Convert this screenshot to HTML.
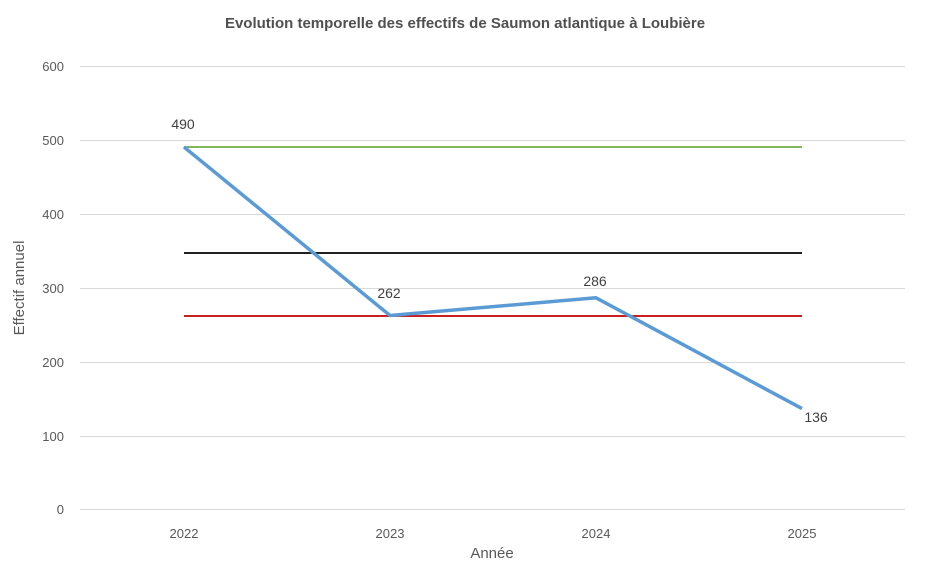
<!DOCTYPE html>
<html><head><meta charset="utf-8"><style>
html,body{margin:0;padding:0;background:#fff;}
svg text{font-family:"Liberation Sans",Arial,sans-serif;}
</style></head><body>
<svg width="928" height="566" xmlns="http://www.w3.org/2000/svg">
<rect width="928" height="566" fill="#fff"/>
<text x="465" y="28" text-anchor="middle" font-size="15" font-weight="bold" fill="#505050">Evolution temporelle des effectifs de Saumon atlantique à Loubière</text>
<g stroke="#d9d9d9" stroke-width="1">
<line x1="80" x2="905" y1="66.5" y2="66.5"/>
<line x1="80" x2="905" y1="140.5" y2="140.5"/>
<line x1="80" x2="905" y1="214.5" y2="214.5"/>
<line x1="80" x2="905" y1="288.5" y2="288.5"/>
<line x1="80" x2="905" y1="362.5" y2="362.5"/>
<line x1="80" x2="905" y1="436.5" y2="436.5"/>
<line x1="80" x2="905" y1="509.5" y2="509.5"/>
</g>
<g font-size="13" fill="#595959" text-anchor="end">
<text x="64" y="71">600</text><text x="64" y="145">500</text><text x="64" y="219">400</text>
<text x="64" y="293">300</text><text x="64" y="367">200</text><text x="64" y="441">100</text><text x="64" y="514">0</text>
</g>
<g font-size="13" fill="#595959" text-anchor="middle">
<text x="184" y="538">2022</text><text x="390" y="538">2023</text><text x="596" y="538">2024</text><text x="802" y="538">2025</text>
</g>
<text x="492" y="558" text-anchor="middle" font-size="15" fill="#595959">Année</text>
<text transform="translate(24,288) rotate(-90)" text-anchor="middle" font-size="15" fill="#595959">Effectif annuel</text>
<line x1="184" x2="802" y1="147" y2="147" stroke="#70ad47" stroke-width="1.8"/>
<line x1="184" x2="802" y1="253" y2="253" stroke="#000" stroke-width="1.8"/>
<line x1="184" x2="802" y1="316" y2="316" stroke="#c00000" stroke-width="1.8"/>
<polyline points="184,147 390,315.5 596,297.8 802,408.6" fill="none" stroke="#5b9bd5" stroke-width="3.5" stroke-linejoin="round"/>
<g font-size="14" fill="#404040" text-anchor="middle">
<text x="183" y="129">490</text><text x="389" y="298">262</text><text x="595" y="286">286</text><text x="816" y="422">136</text>
</g>
</svg>
</body></html>
